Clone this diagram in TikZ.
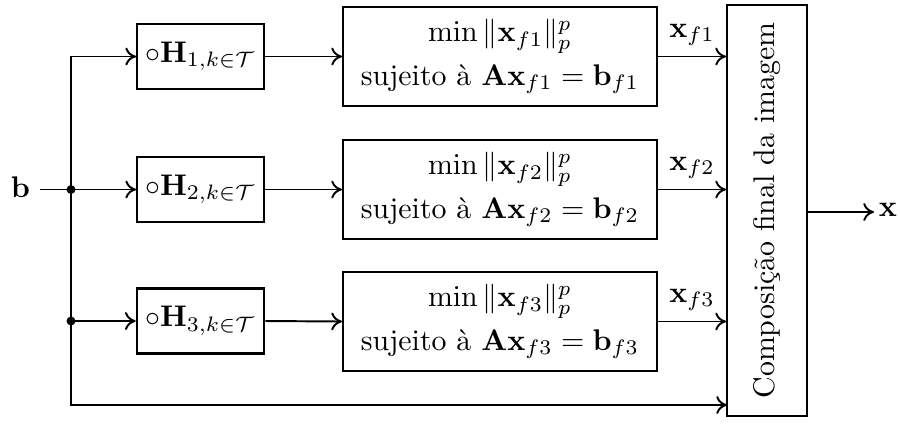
\documentclass[tikz,border=0pt]{standalone}
\usepackage{amsmath,amssymb}
\usetikzlibrary{arrows.meta}
\begin{document}
\begin{tikzpicture}[x=0.335pt,y=-0.335pt,line width=0.65pt,
  >={To[length=3.6pt,width=6pt]},
  hbox/.style={draw,inner sep=0pt,minimum width=42.5pt,minimum height=21.8pt},
  obox/.style={draw,inner sep=0pt,minimum width=105.2pt,minimum height=33.2pt,align=center},
  cbox/.style={draw,inner sep=0pt,minimum width=26.8pt,minimum height=137.7pt},
  dot/.style={circle,fill,inner sep=0pt,minimum size=3pt}]
\useasboundingbox (0,0) rectangle (900,425);
% blocks
\node[hbox] (h1) at (200.5,56.5) {$\circ\mathbf{H}_{1,k\in\mathcal{T}}$};
\node[hbox] (h2) at (200.5,189.5) {$\circ\mathbf{H}_{2,k\in\mathcal{T}}$};
\node[hbox,line width=0.9pt] (h3) at (200.5,321) {$\circ\mathbf{H}_{3,k\in\mathcal{T}}$};
\node[obox] (o1) at (500,56.5) {$\min\|\mathbf{x}_{f1}\|_p^p$\\[2.5pt] sujeito à $\mathbf{A}\mathbf{x}_{f1}=\mathbf{b}_{f1}$};
\node[obox] (o2) at (500,189.5) {$\min\|\mathbf{x}_{f2}\|_p^p$\\[2.5pt] sujeito à $\mathbf{A}\mathbf{x}_{f2}=\mathbf{b}_{f2}$};
\node[obox] (o3) at (500,321.5) {$\min\|\mathbf{x}_{f3}\|_p^p$\\[2.5pt] sujeito à $\mathbf{A}\mathbf{x}_{f3}=\mathbf{b}_{f3}$};
\node[cbox] (c) at (767,210.5) {\rotatebox{90}{Composição final da imagem}};
% input
\node[anchor=east,inner sep=0pt] (b) at (31,187) {$\mathbf{b}$};
\node[dot] (j2) at (71,189.5) {};
\node[dot] (j3) at (71,321) {};
\node[anchor=west,inner sep=0pt] (x) at (878,210) {$\mathbf{x}$};
\coordinate (bs) at (40,189.5);
\coordinate (xe) at (874,212);
\coordinate (cb) at (727,405);
% connectors
\draw (bs) -- (j2.center);
\draw[->] (j2.center) |- (h1.west);
\draw[->] (j2.center) -- (h2.west);
\draw (j2.center) -- (j3.center);
\draw[->] (j3.center) -- (h3.west);
\draw[->] (j3.center) |- (cb);
\draw[->] (h1.east) -- (o1.west);
\draw[->] (h2.east) -- (o2.west);
\draw[->] (h3.east) -- (o3.west);
\draw[->] (o1.east) -- (o1.east -| c.west) node[midway,above] {$\mathbf{x}_{f1}$};
\draw[->] (o2.east) -- (o2.east -| c.west) node[midway,above] {$\mathbf{x}_{f2}$};
\draw[->] (o3.east) -- (o3.east -| c.west) node[midway,above] {$\mathbf{x}_{f3}$};
\draw[->] (c.east |- xe) -- (xe);
\end{tikzpicture}
\end{document}
